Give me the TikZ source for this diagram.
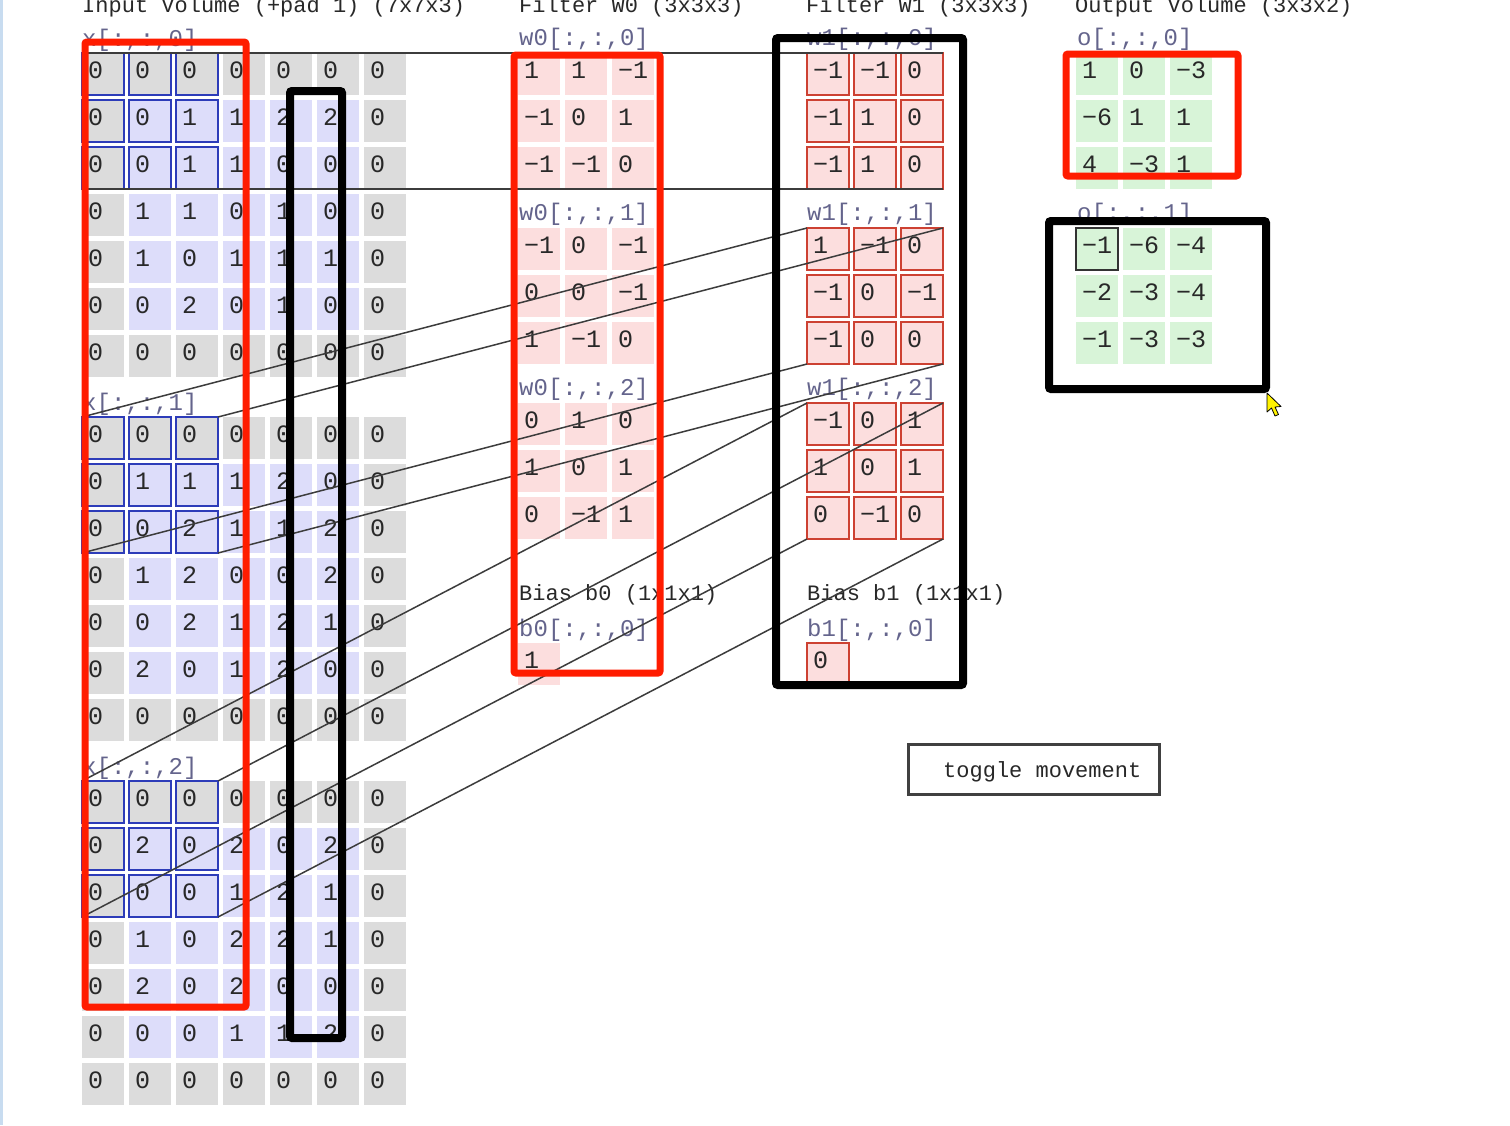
\documentclass[tikz,border=0pt]{standalone}
\usepackage{fontspec}
\newfontfamily\mono{Liberation Mono}
\definecolor{padgray}{RGB}{220,220,220}
\definecolor{inblue}{RGB}{221,221,250}
\definecolor{winblue}{RGB}{45,60,185}
\definecolor{fpink}{RGB}{252,222,222}
\definecolor{fred}{RGB}{205,65,50}
\definecolor{ogreen}{RGB}{216,244,216}
\definecolor{annred}{RGB}{255,28,0}
\definecolor{lblcol}{RGB}{100,100,140}
\definecolor{txtcol}{RGB}{40,40,40}
\definecolor{linkcol}{RGB}{60,60,60}
\definecolor{edgeblue}{RGB}{200,220,240}
\begin{document}
\begin{tikzpicture}[x=1pt,y=-1pt,
  cellbox/.style={rectangle, minimum width=42pt, minimum height=42pt, inner sep=0pt, outer sep=0pt, anchor=north west, line width=2pt},
  digit/.style={anchor=base west, inner sep=0pt, font=\mono\fontsize{25}{28}\selectfont, text=txtcol},
  lbl/.style={anchor=base west, inner sep=0pt, font=\mono\fontsize{24}{28}\selectfont, text=lblcol},
  hdr/.style={anchor=base west, inner sep=0pt, font=\mono\fontsize{22}{26}\selectfont, text=txtcol},
  link/.style={draw=linkcol, line width=1.5pt},
  redbox/.style={draw=annred, line width=7pt, rounded corners=2pt},
  blackbox/.style={draw=black, line width=8pt, rounded corners=2pt},
  btn/.style={rectangle, draw=black!75, line width=3pt, fill=white, minimum width=251pt, minimum height=50pt, inner sep=0pt, outer sep=0pt}
]
\useasboundingbox (0,0) rectangle (1510,1125);
\clip (0,0) rectangle (1510,1125);
\fill[white] (0,0) rectangle (1510,1125);
\fill[edgeblue] (0,0) rectangle (3,1125);

% headers (cut off at top, as in the screenshot)
\node[hdr] (hx) at (82,12) {Input Volume (+pad 1) (7x7x3)};
\node[hdr] (hw0) at (519,12) {Filter W0 (3x3x3)};
\node[hdr] (hw1) at (806,12) {Filter W1 (3x3x3)};
\node[hdr] (ho) at (1075,12) {Output Volume (3x3x2)};

% input volume
\foreach \slice [count=\k from 0] in {
 {{0,0,0,0,0,0,0},{0,0,1,1,2,2,0},{0,0,1,1,0,0,0},{0,1,1,0,1,0,0},{0,1,0,1,1,1,0},{0,0,2,0,1,0,0},{0,0,0,0,0,0,0}},
 {{0,0,0,0,0,0,0},{0,1,1,1,2,0,0},{0,0,2,1,1,2,0},{0,1,2,0,0,2,0},{0,0,2,1,2,1,0},{0,2,0,1,2,0,0},{0,0,0,0,0,0,0}},
 {{0,0,0,0,0,0,0},{0,2,0,2,0,2,0},{0,0,0,1,2,1,0},{0,1,0,2,2,1,0},{0,2,0,2,0,0,0},{0,0,0,1,1,2,0},{0,0,0,0,0,0,0}}}{
  \pgfmathsetmacro\sliceTop{53+364*\k}
  \node[lbl] (xl-\k) at (82,{\sliceTop-7}) {x[:,:,\k]};
  \foreach \row [count=\i from 0] in \slice {
    \foreach \v [count=\j from 0] in \row {
      \pgfmathtruncatemacro\ispad{((\i==0)||(\i==6)||(\j==0)||(\j==6))?1:0}
      \ifnum\ispad=1 \def\cfill{padgray}\else\def\cfill{inblue}\fi
      \def\cdraw{none}
      \ifnum\i<3 \ifnum\j<3 \def\cdraw{winblue}\fi\fi
      \node[cellbox, fill=\cfill, draw=\cdraw] (x-\k-\i-\j) at ({82+47*\j},{\sliceTop+47*\i}) {};
      \node[digit] (xt-\k-\i-\j) at ({88+47*\j},{\sliceTop+47*\i+25}) {\v};
    }
  }
}

% filter w0
\foreach \slice [count=\k from 0] in {
 {{1,1,−1},{−1,0,1},{−1,−1,0}},
 {{−1,0,−1},{0,0,−1},{1,−1,0}},
 {{0,1,0},{1,0,1},{0,−1,1}}}{
  \pgfmathsetmacro\sliceTop{53+175*\k}
  \node[lbl] (w0l-\k) at (519,{\sliceTop-8}) {w0[:,:,\k]};
  \foreach \row [count=\i from 0] in \slice {
    \foreach \v [count=\j from 0] in \row {
      \node[cellbox, fill=fpink] (w0-\k-\i-\j) at ({518+47*\j},{\sliceTop+47*\i}) {};
      \node[digit] (w0t-\k-\i-\j) at ({524+47*\j},{\sliceTop+47*\i+25}) {\v};
    }
  }
}

% filter w1
\foreach \slice [count=\k from 0] in {
 {{−1,−1,0},{−1,1,0},{−1,1,0}},
 {{1,−1,0},{−1,0,−1},{−1,0,0}},
 {{−1,0,1},{1,0,1},{0,−1,0}}}{
  \pgfmathsetmacro\sliceTop{53+175*\k}
  \node[lbl] (w1l-\k) at (807,{\sliceTop-8}) {w1[:,:,\k]};
  \foreach \row [count=\i from 0] in \slice {
    \foreach \v [count=\j from 0] in \row {
      \node[cellbox, fill=fpink, draw=fred] (w1-\k-\i-\j) at ({807+47*\j},{\sliceTop+47*\i}) {};
      \node[digit] (w1t-\k-\i-\j) at ({813+47*\j},{\sliceTop+47*\i+25}) {\v};
    }
  }
}

% biases
\node[hdr] (bb0) at (519,600) {Bias b0 (1x1x1)};
\node[lbl] (b0l) at (519,636) {b0[:,:,0]};
\node[cellbox, fill=fpink] (b0) at (518,643) {};
\node[digit] (b0t) at (524,668) {1};
\node[hdr] (bb1) at (807,600) {Bias b1 (1x1x1)};
\node[lbl] (b1l) at (807,636) {b1[:,:,0]};
\node[cellbox, fill=fpink, draw=fred] (b1) at (807,643) {};
\node[digit] (b1t) at (813,668) {0};

% output volume
\foreach \slice [count=\k from 0] in {
 {{1,0,−3},{−6,1,1},{4,−3,1}},
 {{−1,−6,−4},{−2,−3,−4},{−1,−3,−3}}}{
  \pgfmathsetmacro\sliceTop{53+175*\k}
  \node[lbl] (ol-\k) at (1077,{\sliceTop-8}) {o[:,:,\k]};
  \foreach \row [count=\i from 0] in \slice {
    \foreach \v [count=\j from 0] in \row {
      \def\cdraw{none}
      \ifnum\k=1 \ifnum\i=0 \ifnum\j=0 \def\cdraw{black!80}\fi\fi\fi
      \node[cellbox, fill=ogreen, draw=\cdraw] (o-\k-\i-\j) at ({1076+47*\j},{\sliceTop+47*\i}) {};
      \node[digit] (ot-\k-\i-\j) at ({1082+47*\j},{\sliceTop+47*\i+25}) {\v};
    }
  }
}

% connecting lines: input window corners to filter w1 corners
\foreach \k in {0,1,2}{
  \draw[link] (x-\k-0-0.north west) -- (w1-\k-0-0.north west);
  \draw[link] (x-\k-0-2.north east) -- (w1-\k-0-2.north east);
  \draw[link] (x-\k-2-0.south west) -- (w1-\k-2-0.south west);
  \draw[link] (x-\k-2-2.south east) -- (w1-\k-2-2.south east);
}

% toggle button
\node[btn] (toggle) at (1034,769.5) {};
\node[hdr] (toggletxt) at (943,777) {toggle movement};

% annotation boxes
\draw[redbox] (85,42) rectangle (246,1007);
\draw[blackbox] (290,91) rectangle (342,1038);
\draw[redbox] (514,55) rectangle (660,673);
\draw[blackbox] (776,38) rectangle (963,685);
\draw[redbox] (1066,54) rectangle (1238,176);
\draw[blackbox] (1049,221) rectangle (1266,389);

% mouse cursor
\draw[fill=yellow, draw=black, line width=0.8pt, line join=round]
  (1267,393) -- (1267,412) -- (1271.5,408) -- (1275,416) -- (1278.5,414.5) -- (1275,407) -- (1281,406.5) -- cycle;
\end{tikzpicture}
\end{document}
